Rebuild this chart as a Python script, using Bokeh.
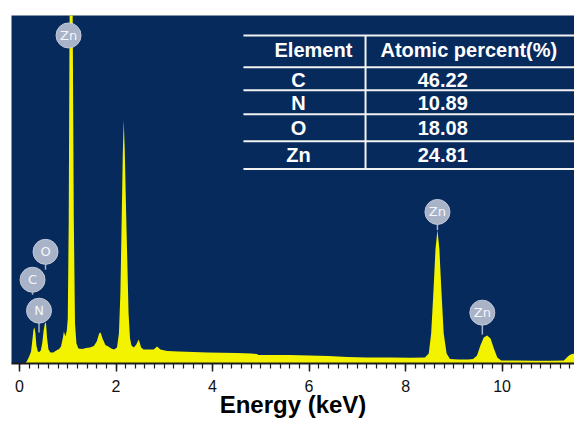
import numpy as np
from bokeh.plotting import figure
from bokeh.models import Range1d, FixedTicker
from bokeh.core.properties import value
from bokeh.embed import file_html
from bokeh.resources import INLINE

# ---- spectrum (energy in keV, intensity in counts) ----
energy = [0.00, 0.12, 0.16, 0.20, 0.24, 0.27, 0.29, 0.31, 0.33, 0.35, 0.38, 0.41, 0.44, 0.47,
          0.50, 0.53, 0.55, 0.57, 0.60, 0.64, 0.70, 0.76, 0.82, 0.86, 0.90, 0.92, 0.95, 0.98,
          1.00, 1.02, 1.035, 1.05, 1.09, 1.105, 1.125, 1.15, 1.18, 1.22, 1.30, 1.38, 1.46,
          1.54, 1.60, 1.65, 1.68, 1.72, 1.78, 1.84, 1.90, 1.96, 2.02, 2.06, 2.09, 2.11, 2.14,
          2.16, 2.18, 2.21, 2.23, 2.26, 2.29, 2.32, 2.37, 2.42, 2.47, 2.52, 2.57, 2.68, 2.78,
          2.85, 2.92, 3.06, 3.30, 3.60, 3.90, 4.20, 4.50, 4.80, 4.92, 4.95, 5.30, 5.60, 6.00,
          6.40, 6.80, 7.20, 7.70, 8.10, 8.40, 8.48, 8.53, 8.58, 8.62, 8.66, 8.70, 8.74, 8.79,
          8.85, 8.92, 9.10, 9.30, 9.40, 9.48, 9.55, 9.62, 9.69, 9.76, 9.83, 9.90, 9.98, 10.30,
          10.70, 11.00, 11.28, 11.34, 11.40, 11.45, 11.52]
counts = [0, 0, 30, 70, 120, 250, 340, 360, 300, 180, 120, 115, 130, 200,
          330, 410, 400, 260, 140, 110, 110, 130, 145, 170, 260, 320, 270, 330,
          450, 1440, 3200, 4500, 4500, 3200, 1440, 400, 200, 150, 145, 155, 160,
          175, 220, 300, 310, 250, 185, 170, 150, 140, 160, 300, 700, 1240, 2100,
          2440, 2150, 1500, 1100, 500, 250, 180, 160, 190, 240, 160, 140, 140, 140,
          170, 140, 125, 120, 115, 110, 108, 105, 100, 95, 85, 85, 85, 80,
          75, 65, 60, 60, 58, 60, 100, 300, 750, 1150, 1340, 1150, 750, 300,
          100, 45, 40, 40, 45, 80, 180, 260, 280, 250, 150, 60, 30, 30,
          28, 28, 30, 60, 85, 95, 100]

# ---- peak labels ----
peak_elements = ["Zn", "O", "C", "N", "Zn", "Zn"]
peak_energy = [1.016, 0.539, 0.27, 0.404, 8.66, 9.59]
peak_label_counts = [3290, 1120, 840, 530, 1520, 510]
peak_stem_end = [3290, 940, 690, 310, 1340, 290]

# ---- composition table ----
table_header = ["Element", "Atomic percent(%)"]
table_elements = ["C", "N", "O", "Zn"]
table_percent = ["46.22", "10.89", "18.08", "24.81"]

tick_values = [0, 2, 4, 6, 8, 10]
tick_labels = {0: "0", 2: "2", 4: "4", 6: "6", 8: "8", 10: "10"}

NAVY = "#072a5d"
YELLOW = "#f3f300"
BADGE = "#a8b3c8"

p = figure(width=574, height=420, x_range=Range1d(-0.166, 11.50), y_range=Range1d(0, 3490),
           output_backend="svg", toolbar_location=None, y_axis_location=None,
           min_border_left=11, min_border_right=0, min_border_top=15, min_border_bottom=56)
p.background_fill_color = NAVY
p.border_fill_color = "white"
p.outline_line_color = None
p.grid.visible = False

# spectrum
p.varea(x=energy, y1=0, y2=counts, fill_color=YELLOW)

# x axis
ax = p.xaxis[0]
ax.ticker = FixedTicker(ticks=tick_values, minor_ticks=list(np.round(np.arange(0, 11.6, 0.2), 2)))
ax.major_label_overrides = tick_labels
ax.axis_line_width = 2
ax.axis_line_color = "#1c1c1c"
ax.major_tick_line_color = "#1c1c1c"
ax.minor_tick_line_color = "#1c1c1c"
ax.major_tick_line_width = 1.5
ax.minor_tick_line_width = 1.2
ax.major_tick_out = 8
ax.major_tick_in = 0
ax.minor_tick_out = 5
ax.minor_tick_in = 0
ax.major_label_standoff = 8
ax.major_label_text_font = "Liberation Sans"
ax.major_label_text_font_size = "16px"
ax.major_label_text_color = "#111111"
ax.axis_label = "Energy (keV)"
ax.axis_label_standoff = -4
ax.axis_label_text_font = "Liberation Sans"
ax.axis_label_text_font_style = "bold"
ax.axis_label_text_font_size = "24px"
ax.axis_label_text_color = "#000000"

# peak badges
p.segment(x0=peak_energy, y0=peak_label_counts, x1=peak_energy, y1=peak_stem_end,
          line_color=BADGE, line_width=1.5)
p.scatter(x=peak_energy, y=peak_label_counts, marker="circle", size=25,
          fill_color=BADGE, line_color="#c3cad8", line_width=1)
p.text(x=peak_energy, y=peak_label_counts, text=peak_elements,
       text_font=value("DejaVu Sans"), text_font_size="13px", text_color="#f4f6fa",
       text_align="center", text_baseline="middle")

# table lines
row_lines = [3290, 2970, 2740, 2500, 2230, 1950]
p.segment(x0=[4.64] * len(row_lines), y0=row_lines, x1=[11.52] * len(row_lines), y1=row_lines,
          line_color="#f2f2f2", line_width=2)
p.segment(x0=[7.17], y0=[1950], x1=[7.17], y1=[3290], line_color="#f2f2f2", line_width=2)

row_centers = [2840, 2610, 2360, 2090]
p.text(x=[6.09, 9.31], y=[3140, 3140], text=table_header,
       text_font=value("Liberation Sans"), text_font_style="bold", text_font_size="20px",
       text_color="white", text_align="center", text_baseline="middle")
p.text(x=[5.78] * 4, y=row_centers, text=table_elements,
       text_font=value("Liberation Sans"), text_font_style="bold", text_font_size="20px",
       text_color="white", text_align="center", text_baseline="middle")
p.text(x=[8.77] * 4, y=row_centers, text=table_percent,
       text_font=value("Liberation Sans"), text_font_style="bold", text_font_size="20px",
       text_color="white", text_align="center", text_baseline="middle")

open("out.html", "w").write(file_html(p, INLINE))
